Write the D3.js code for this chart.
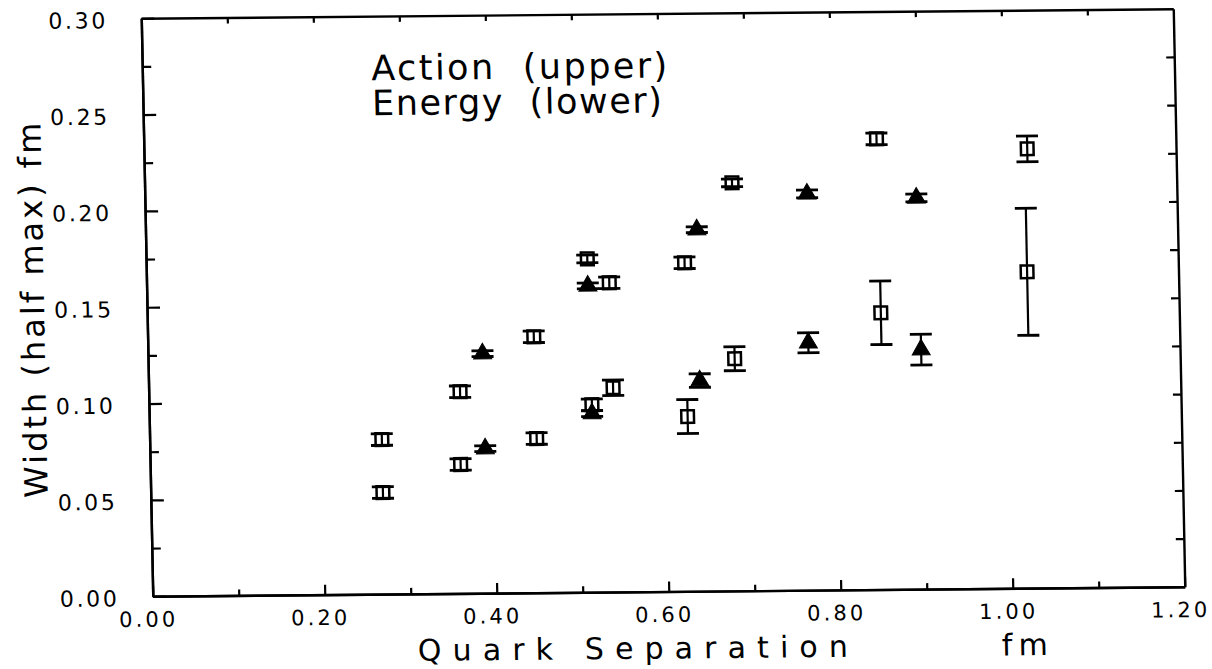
<!DOCTYPE html>
<html>
<head>
<meta charset="utf-8">
<script src="https://cdn.jsdelivr.net/npm/d3@7"></script>
<style>
  body { margin: 0; background: #fff; }
  text { font-family: "DejaVu Sans", sans-serif; fill: #000; }
</style>
</head>
<body>
<svg id="chart" width="1212" height="669"></svg>
<script>
// [x (fm), width (fm), error]
const actionSquares = [
  [0.270, 0.0802, 0.003], [0.362, 0.1047, 0.003], [0.449, 0.1328, 0.003],
  [0.513, 0.1730, 0.002], [0.538, 0.1605, 0.003], [0.626, 0.1705, 0.003],
  [0.683, 0.2118, 0.002], [0.852, 0.2339, 0.003], [1.027, 0.2280, 0.0067]
];
const actionTriangles = [
  [0.389, 0.1243, 0.0015], [0.513, 0.1590, 0.0015], [0.641, 0.1876, 0.0015],
  [0.770, 0.2057, 0.002], [0.897, 0.2031, 0.002]
];
const energySquares = [
  [0.270, 0.0527, 0.003], [0.361, 0.0669, 0.003], [0.450, 0.0800, 0.003],
  [0.515, 0.0973, 0.003], [0.540, 0.1060, 0.004], [0.626, 0.0907, 0.0088],
  [0.682, 0.1205, 0.0062], [0.853, 0.1436, 0.0165], [1.024, 0.1642, 0.033]
];
const energyTriangles = [
  [0.390, 0.0750, 0.0015], [0.515, 0.0927, 0.0015], [0.641, 0.1093, 0.0035],
  [0.768, 0.1284, 0.0052], [0.899, 0.1243, 0.008]
];

const xMajor = [0, 0.2, 0.4, 0.6, 0.8, 1.0, 1.2];
const xMinor = [0.1, 0.3, 0.5, 0.7, 0.9, 1.1];
const yMajor = [0, 0.05, 0.10, 0.15, 0.20, 0.25, 0.30];
const yMinor = [0.025, 0.075, 0.125, 0.175, 0.225, 0.275];
const legendLines = ["Action  (upper)", "Energy  (lower)"];

const W = 1032, H = 578;
const svg = d3.select("#chart");
// the scanned figure sits a little askew, so the frame gets a slight skew
const g = svg.append("g")
  .attr("transform", "matrix(1,-0.0092,0.0199,1,141.25,18.25)");

const x = d3.scaleLinear().domain([0, 1.2]).range([0, W]);
const y = d3.scaleLinear().domain([0, 0.3]).range([H, 0]);
const fmt = d3.format(".2f");

function styleAxis(sel) {
  sel.selectAll("path.domain").attr("stroke", "#000").attr("stroke-width", 2.4);
  sel.selectAll(".tick line").attr("stroke", "#000").attr("stroke-width", 2.2);
  sel.selectAll("text").remove();
}

// bottom
g.append("g").attr("transform", `translate(0,${H})`)
  .call(d3.axisBottom(x).tickValues(xMajor).tickSizeInner(-10).tickSizeOuter(0))
  .call(styleAxis);
g.append("g").attr("transform", `translate(0,${H})`)
  .call(d3.axisBottom(x).tickValues(xMinor).tickSizeInner(-6).tickSizeOuter(0))
  .call(styleAxis);
// top
g.append("g")
  .call(d3.axisTop(x).tickValues(xMajor.concat(xMinor).filter(d => d > 0 && d < 1.2)).tickSizeInner(-6).tickSizeOuter(0))
  .call(styleAxis);
// left
g.append("g")
  .call(d3.axisLeft(y).tickValues(yMajor).tickSizeInner(-13).tickSizeOuter(0))
  .call(styleAxis);
g.append("g")
  .call(d3.axisLeft(y).tickValues(yMinor).tickSizeInner(-9).tickSizeOuter(0))
  .call(styleAxis);
// right
g.append("g").attr("transform", `translate(${W},0)`)
  .call(d3.axisRight(y).tickValues(yMajor.concat(yMinor).filter(d => d > 0 && d < 0.3)).tickSizeInner(-8).tickSizeOuter(0))
  .call(styleAxis);

// tick labels
g.append("g").selectAll("text")
  .data(xMajor).join("text")
  .attr("x", d => x(d) - 6)
  .attr("y", H + 23)
  .attr("dy", "0.35em")
  .attr("text-anchor", "middle")
  .attr("font-size", 21)
  .attr("textLength", 56)
  .attr("lengthAdjust", "spacing")
  .text(fmt);

g.append("g").selectAll("text")
  .data(yMajor).join("text")
  .attr("x", -36)
  .attr("y", d => y(d) + 2)
  .attr("dy", "0.35em")
  .attr("text-anchor", "end")
  .attr("font-size", 22)
  .attr("textLength", 57)
  .attr("lengthAdjust", "spacing")
  .text(fmt);

// axis titles
g.append("text")
  .attr("x", 264).attr("y", 645)
  .attr("font-size", 30)
  .attr("textLength", 430)
  .attr("lengthAdjust", "spacing")
  .text("Quark Separation");
g.append("text")
  .attr("x", 848).attr("y", 645)
  .attr("font-size", 30)
  .attr("textLength", 46)
  .attr("lengthAdjust", "spacing")
  .text("fm");

g.append("text")
  .attr("transform", "translate(-103,291) rotate(-90)")
  .attr("text-anchor", "middle")
  .attr("font-size", 32)
  .attr("textLength", 375)
  .attr("lengthAdjust", "spacing")
  .text("Width  (half  max)  fm");

// legend text, both lines in one block
g.append("text")
  .attr("font-size", 35)
  .style("white-space", "pre")
  .selectAll("tspan")
  .data(legendLines).join("tspan")
  .attr("x", 229)
  .attr("y", (d, i) => 64 + i * 35)
  .attr("textLength", (d, i) => i === 0 ? 296 : 290)
  .attr("lengthAdjust", "spacing")
  .text(d => d);

// error bars + markers
function drawSeries(data, shape) {
  const grp = g.append("g");
  const pts = grp.selectAll("g").data(data).join("g")
    .attr("transform", d => `translate(${x(d[0])},${y(d[1])})`);
  pts.append("line")
    .attr("x1", 0).attr("x2", 0)
    .attr("y1", d => y(d[1] + d[2]) - y(d[1]))
    .attr("y2", d => y(d[1] - d[2]) - y(d[1]))
    .attr("stroke", "#000").attr("stroke-width", 2.2);
  [1, -1].forEach(s => {
    pts.append("line")
      .attr("x1", -11).attr("x2", 11)
      .attr("y1", d => y(d[1] + s * d[2]) - y(d[1]))
      .attr("y2", d => y(d[1] + s * d[2]) - y(d[1]))
      .attr("stroke", "#000").attr("stroke-width", 2.8);
  });
  if (shape === "square") {
    pts.append("path")
      .attr("d", d3.symbol(d3.symbolSquare, 160)())
      .attr("fill", "none").attr("stroke", "#000").attr("stroke-width", 2.5);
  } else {
    pts.append("path")
      .attr("d", d3.symbol(d3.symbolTriangle, 140)())
      .attr("fill", "#000").attr("stroke", "#000").attr("stroke-width", 1);
  }
}
drawSeries(actionSquares, "square");
drawSeries(energySquares, "square");
drawSeries(actionTriangles, "triangle");
drawSeries(energyTriangles, "triangle");
</script>
</body>
</html>
